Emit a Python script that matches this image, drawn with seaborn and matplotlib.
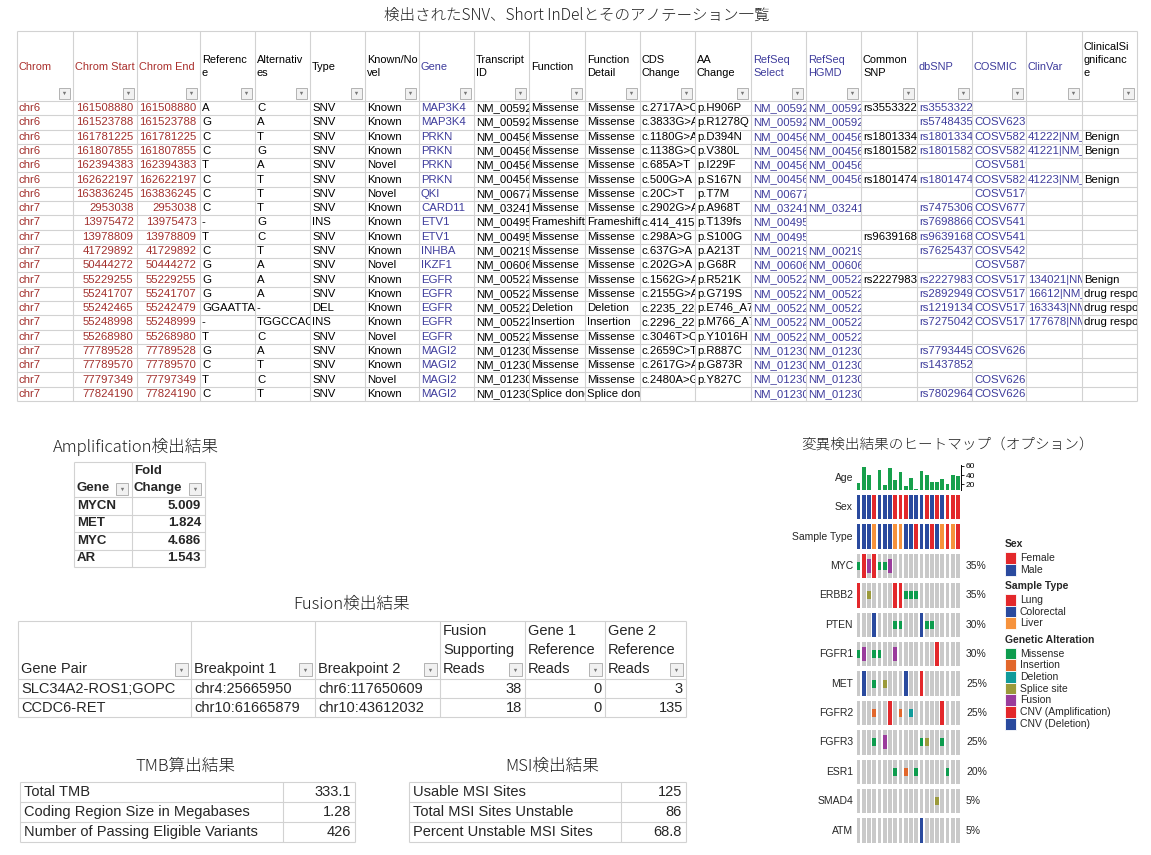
import numpy as np
import pandas as pd
import matplotlib
matplotlib.use("Agg")
import matplotlib.pyplot as plt
import seaborn as sns
from matplotlib.patches import Rectangle
from matplotlib.transforms import Bbox, TransformedBbox

sns.set_theme(style="white")
plt.rcParams["font.family"] = ["Liberation Sans", "Noto Sans CJK JP", "DejaVu Sans"]
JP = ["Noto Sans CJK JP", "DejaVu Sans"]

# ---------------------------------------------------------------- data: SNV / InDel table
snv_headers = ["Chrom", "Chrom Start", "Chrom End", "Referenc\ne", "Alternativ\nes", "Type",
               "Known/No\nvel", "Gene", "Transcript\nID", "Function", "Function\nDetail",
               "CDS\nChange", "AA\nChange", "RefSeq\nSelect", "RefSeq\nHGMD", "Common\nSNP",
               "dbSNP", "COSMIC", "ClinVar", "ClinicalSi\ngnificanc\ne"]
chrom = ["chr6"] * 7 + ["chr7"] * 14
chrom_start = [161508880, 161523788, 161781225, 161807855, 162394383, 162622197, 163836245,
               2953038, 13975472, 13978809, 41729892, 50444272, 55229255, 55241707,
               55242465, 55248998, 55268980, 77789528, 77789570, 77797349, 77824190]
chrom_end = [161508880, 161523788, 161781225, 161807855, 162394383, 162622197, 163836245,
             2953038, 13975473, 13978809, 41729892, 50444272, 55229255, 55241707,
             55242479, 55248999, 55268980, 77789528, 77789570, 77797349, 77824190]
reference = ["A", "G", "C", "C", "T", "C", "C", "C", "-", "T", "C", "G", "G", "G",
             "GGAATTAAGAGAAGC", "-", "T", "G", "C", "T", "C"]
alternatives = ["C", "A", "T", "G", "A", "T", "T", "T", "G", "C", "T", "A", "A", "A",
                "-", "TGGCCAGCG", "C", "A", "T", "C", "T"]
var_type = ["SNV"] * 8 + ["INS", "SNV", "SNV", "SNV", "SNV", "SNV", "DEL", "INS",
                          "SNV", "SNV", "SNV", "SNV", "SNV"]
known_novel = ["Known", "Known", "Known", "Known", "Novel", "Known", "Novel", "Known",
               "Known", "Known", "Known", "Novel", "Known", "Known", "Known", "Known",
               "Novel", "Known", "Known", "Novel", "Known"]
gene = ["MAP3K4", "MAP3K4", "PRKN", "PRKN", "PRKN", "PRKN", "QKI", "CARD11", "ETV1", "ETV1",
        "INHBA", "IKZF1", "EGFR", "EGFR", "EGFR", "EGFR", "EGFR", "MAGI2", "MAGI2", "MAGI2",
        "MAGI2"]
transcript = ["NM_005922", "NM_005922", "NM_004562", "NM_004562", "NM_004562", "NM_004562",
              "NM_006775", "NM_032415", "NM_004956", "NM_004956", "NM_002192", "NM_006060",
              "NM_005228", "NM_005228", "NM_005228", "NM_005228", "NM_005228", "NM_012301",
              "NM_012301", "NM_012301", "NM_012301"]
function = ["Missense"] * 8 + ["Frameshift"] + ["Missense"] * 5 + \
           ["Deletion", "Insertion", "Missense", "Missense", "Missense", "Missense", "Splice donor"]
function_detail = list(function)
cds_change = ["c.2717A>C", "c.3833G>A", "c.1180G>A", "c.1138G>C", "c.685A>T", "c.500G>A",
              "c.20C>T", "c.2902G>A", "c.414_415insC", "c.298A>G", "c.637G>A", "c.202G>A",
              "c.1562G>A", "c.2155G>A", "c.2235_2249del", "c.2296_2297ins", "c.3046T>C",
              "c.2659C>T", "c.2617G>A", "c.2480A>G", ""]
aa_change = ["p.H906P", "p.R1278Q", "p.D394N", "p.V380L", "p.I229F", "p.S167N", "p.T7M",
             "p.A968T", "p.T139fs", "p.S100G", "p.A213T", "p.G68R", "p.R521K", "p.G719S",
             "p.E746_A750del", "p.M766_A767ins", "p.Y1016H", "p.R887C", "p.G873R", "p.Y827C", ""]
refseq_select = list(transcript)
refseq_hgmd = ["NM_005922", "NM_005922", "NM_004562", "NM_004562", "NM_004562", "NM_004562",
               "", "NM_032415", "", "", "NM_002192", "NM_006060", "NM_005228", "NM_005228",
               "NM_005228", "NM_005228", "NM_005228", "NM_012301", "NM_012301", "NM_012301",
               "NM_012301"]
common_snp = ["rs3553322", "", "rs1801334", "rs1801582", "", "rs1801474", "", "", "",
              "rs9639168", "", "", "rs2227983", "", "", "", "", "", "", "", ""]
dbsnp = ["rs3553322", "rs5748435", "rs1801334", "rs1801582", "", "rs1801474", "", "rs7475306",
         "rs7698866", "rs9639168", "rs7625437", "", "rs2227983", "rs2892949", "rs1219134",
         "rs7275042", "", "rs7793445", "rs1437852", "", "rs7802964"]
cosmic = ["", "COSV62331", "COSV58221", "COSV58214", "COSV58193", "COSV58201", "COSV51703",
          "COSV67793", "COSV54131", "COSV54132", "COSV54210", "COSV58792", "COSV51772",
          "COSV51766", "COSV51767", "COSV51768", "", "COSV62631", "", "COSV62692", "COSV62633"]
clinvar = ["", "", "41222|NM_", "41221|NM_", "", "41223|NM_", "", "", "", "", "", "",
           "134021|NM", "16612|NM_", "163343|NM", "177678|NM", "", "", "", "", ""]
clin_sig = ["", "", "Benign", "Benign", "", "Benign", "", "", "", "", "", "", "Benign",
            "drug response", "drug response", "drug response", "", "", "", "", ""]

# ---------------------------------------------------------------- data: small tables
amp_gene = ["MYCN", "MET", "MYC", "AR"]
amp_fold = [5.009, 1.824, 4.686, 1.543]

fusion_headers = ["Gene Pair", "Breakpoint 1", "Breakpoint 2", "Fusion\nSupporting\nReads",
                  "Gene 1\nReference\nReads", "Gene 2\nReference\nReads"]
fusion_pair = ["SLC34A2-ROS1;GOPC", "CCDC6-RET"]
fusion_bp1 = ["chr4:25665950", "chr10:61665879"]
fusion_bp2 = ["chr6:117650609", "chr10:43612032"]
fusion_reads = [38, 18]
gene1_ref_reads = [0, 0]
gene2_ref_reads = [3, 135]

tmb_labels = ["Total TMB", "Coding Region Size in Megabases", "Number of Passing Eligible Variants"]
tmb_values = ["333.1", "1.28", "426"]
msi_labels = ["Usable MSI Sites", "Total MSI Sites Unstable", "Percent Unstable MSI Sites"]
msi_values = ["125", "86", "68.8"]

# ---------------------------------------------------------------- data: oncoprint
samples = list(range(20))
age = [23, 58, 41, np.nan, 51, 19, 56, 29, 47, 17, 33, 11, 49, 41, 25, 25, 32, 21, 40, 38]
sex = ["Male", "Male", "Male", "Female", "Male", "Male", "Male", "Female", "Female", "Female",
       "Male", "Male", "Male", "Female", "Male", "Female", "Male", "Female", "Female", "Female"]
sample_type = ["Colorectal", "Colorectal", "Colorectal", "Liver", "Colorectal", "Colorectal",
               "Colorectal", "Liver", "Liver", "Colorectal", "Colorectal", "Lung", "Colorectal",
               "Colorectal", "Lung", "Colorectal", "Liver", "Lung", "Liver", "Lung"]
onco_genes = ["MYC", "ERBB2", "PTEN", "FGFR1", "MET", "FGFR2", "FGFR3", "ESR1", "SMAD4", "ATM"]
alterations = {
    "MYC":   [(0, "Missense"), (1, "CNV (Amplification)"), (2, "Fusion"), (3, "CNV (Amplification)"),
              (4, "Missense"), (5, "Missense"), (6, "Fusion")],
    "ERBB2": [(0, "CNV (Amplification)"), (2, "Splice site"), (7, "CNV (Amplification)"),
              (8, "CNV (Amplification)"), (9, "Missense"), (10, "Missense"), (11, "Missense")],
    "PTEN":  [(3, "CNV (Deletion)"), (7, "Missense"), (8, "Missense"), (12, "CNV (Deletion)"),
              (13, "Missense"), (14, "Missense")],
    "FGFR1": [(0, "Missense"), (1, "Fusion"), (3, "Missense"), (4, "Missense"), (7, "Fusion"),
              (15, "CNV (Amplification)")],
    "MET":   [(1, "CNV (Deletion)"), (3, "Missense"), (5, "Splice site"), (9, "CNV (Deletion)"),
              (12, "CNV (Amplification)")],
    "FGFR2": [(3, "Insertion"), (6, "CNV (Amplification)"), (8, "Insertion"), (10, "Deletion"),
              (16, "CNV (Amplification)")],
    "FGFR3": [(3, "Missense"), (5, "Fusion"), (12, "Missense"), (13, "Splice site"), (16, "Missense")],
    "ESR1":  [(7, "Missense"), (9, "Insertion"), (11, "Missense"), (17, "Missense")],
    "SMAD4": [(15, "Splice site")],
    "ATM":   [(12, "CNV (Deletion)")],
}

# ---------------------------------------------------------------- styles
RED = "#e3282b"
BLUE = "#2a4a9e"
sex_colors = {"Female": RED, "Male": BLUE}
type_colors = {"Lung": RED, "Colorectal": BLUE, "Liver": "#f6923c"}
alt_colors = {"Missense": "#0e9c4e", "Insertion": "#e2672b", "Deletion": "#119b9b",
              "Splice site": "#9b9a3b", "Fusion": "#9a3c9c",
              "CNV (Amplification)": RED, "CNV (Deletion)": BLUE}
alt_height = {"Missense": 0.33, "Insertion": 0.33, "Deletion": 0.33, "Splice site": 0.33,
              "Fusion": 0.58, "CNV (Amplification)": 1.0, "CNV (Deletion)": 1.0}
AGE_GREEN = "#17a04c"
CELL_GRAY = "#c9c9c9"
GRID = "#d2d2d2"
HDR_RED = "#aa2f2c"
HDR_BLUE = "#3e3c9c"
TITLE_KW = dict(family=JP, color="#222222", fontweight="light")


def _probe(order):
    f = plt.figure(figsize=(1, 1), dpi=100)
    a = f.add_axes([0, 0, 1, 1])
    a.set_xlim(0, 100)
    a.set_ylim(100, 0)
    a.axis("off")
    t = a.text(5, 50, "MMMMMMMM", fontsize=14, va="center", color="black")
    bb = Bbox.from_extents(0, 80, 50, 20) if order == "norm" else Bbox.from_extents(0, 20, 50, 80)
    t.set_clip_box(TransformedBbox(bb, a.transData))
    t.set_clip_on(True)
    f.canvas.draw()
    arr = np.asarray(f.canvas.buffer_rgba())[..., :3]
    plt.close(f)
    dark = arr.min(axis=2) < 110
    cols = np.where(dark.any(axis=0))[0]
    return len(cols) > 0 and cols.max() <= 53


CLIP_ORDER = "norm" if _probe("norm") else ("rev" if _probe("rev") else None)

W, H = 1151, 855
fig = plt.figure(figsize=(W / 100, H / 100), dpi=100)
ov = fig.add_axes([0, 0, 1, 1])
ov.set_xlim(0, W)
ov.set_ylim(H, 0)
ov.axis("off")
renderer = fig.canvas.get_renderer()


def cell_text(x, y, s, x0, x1, y0, y1, **kw):
    t = ov.text(x, y, s, **kw)
    if CLIP_ORDER is not None:
        bb = Bbox.from_extents(x0, y1, x1, y0) if CLIP_ORDER == "norm" else \
            Bbox.from_extents(x0, y0, x1, y1)
        t.set_clip_box(TransformedBbox(bb, ov.transData))
        t.set_clip_on(True)
    else:
        while s and t.get_window_extent(renderer).x1 > x1 + 0.5:
            s = s[:-1]
            t.set_text(s)
    return t


def filter_button(xr, yb, size):
    ov.add_patch(Rectangle((xr - size, yb - size), size, size, facecolor="#f1f1f1",
                           edgecolor="#a8a8a8", lw=0.6, zorder=3))
    ov.plot([xr - size / 2], [yb - size / 2], marker="v", ms=2.4, color="#777777",
            mec="none", zorder=4)


def grid(xs, ys, color=GRID, lw=0.8):
    for y in ys:
        ov.plot([xs[0], xs[-1]], [y, y], color=color, lw=lw, solid_capstyle="butt")
    for x in xs:
        ov.plot([x, x], [ys[0], ys[-1]], color=color, lw=lw, solid_capstyle="butt")


# ---------------------------------------------------------------- SNV table
ov.text(577, 15, "検出されたSNV、Short InDelとそのアノテーション一覧", ha="center", va="center",
        fontsize=11.2, **TITLE_KW)
snv_cols = [chrom, chrom_start, chrom_end, reference, alternatives, var_type, known_novel, gene,
            transcript, function, function_detail, cds_change, aa_change, refseq_select,
            refseq_hgmd, common_snp, dbsnp, cosmic, clinvar, clin_sig]
snv_x = [17, 73, 137, 200, 255, 310, 365, 419, 474, 529, 585, 640, 695, 751, 806, 861, 917,
         972, 1026, 1082, 1137]
snv_hdr_color = [HDR_RED] * 3 + ["black"] * 4 + [HDR_BLUE] + ["black"] * 5 + [HDR_BLUE] * 2 + \
                ["black"] + [HDR_BLUE] * 3 + ["black"]
snv_val_color = ["#a3302d"] * 3 + ["black"] * 4 + [HDR_BLUE] + ["black"] * 5 + [HDR_BLUE] * 2 + \
                ["black"] + [HDR_BLUE] * 3 + ["black"]
snv_right = [False, True, True] + [False] * 17
top, hdr_bot, bot = 31, 101, 401
nrow = len(chrom)
rh = (bot - hdr_bot) / nrow
row_ys = [hdr_bot + i * rh for i in range(nrow + 1)]
grid(snv_x, [top] + row_ys)
for j, head in enumerate(snv_headers):
    x0, x1 = snv_x[j], snv_x[j + 1]
    lines = head.split("\n")
    ys = [67] if len(lines) == 1 else [73 - 13 * (len(lines) - 1 - k) for k in range(len(lines))]
    for ln, yy in zip(lines, ys):
        cell_text(x0 + 2, yy, ln, x0, x1, top, hdr_bot, fontsize=7.9, va="center",
                  color=snv_hdr_color[j])
    filter_button(x1 - 3, hdr_bot - 2, 11)
    for i, v in enumerate(snv_cols[j]):
        yc = hdr_bot + (i + 0.5) * rh
        s = str(v)
        if not s:
            continue
        if snv_right[j]:
            cell_text(x1 - 3.5, yc, s, x0, x1, row_ys[i], row_ys[i + 1], fontsize=8.2,
                      ha="right", va="center", color=snv_val_color[j])
        else:
            cell_text(x0 + 2, yc, s, x0 + 1, x1, row_ys[i], row_ys[i + 1], fontsize=8.2,
                      ha="left", va="center", color=snv_val_color[j])

# ---------------------------------------------------------------- Amplification table
ov.text(53, 447, "Amplification検出結果", ha="left", va="center", fontsize=12, **TITLE_KW)
amp_x = [74, 132, 205]
amp_top, amp_hb = 462, 497
amp_rh = (567 - amp_hb) / len(amp_gene)
amp_rows = [amp_hb + i * amp_rh for i in range(len(amp_gene) + 1)]
grid(amp_x, [amp_top] + amp_rows)
ov.text(amp_x[0] + 3, 488, "Gene", fontsize=9.5, fontweight="bold", va="center")
ov.text(amp_x[1] + 2, 471, "Fold", fontsize=9.5, fontweight="bold", va="center")
ov.text(amp_x[1] + 2, 488, "Change", fontsize=9.5, fontweight="bold", va="center")
filter_button(amp_x[1] - 4, amp_hb - 2, 12)
filter_button(amp_x[2] - 4, amp_hb - 2, 12)
for i, (g, f) in enumerate(zip(amp_gene, amp_fold)):
    yc = amp_hb + (i + 0.5) * amp_rh
    ov.text(amp_x[0] + 3, yc, g, fontsize=9.5, fontweight="bold", va="center")
    ov.text(amp_x[2] - 4, yc, f"{f:.3f}", fontsize=9.5, fontweight="bold", va="center", ha="right")

# ---------------------------------------------------------------- Fusion table
ov.text(352, 604, "Fusion検出結果", ha="center", va="center", fontsize=12, **TITLE_KW)
fus_x = [18, 191, 315, 440, 525, 605, 686]
fus_top, fus_hb = 621, 679
fus_rh = 19
fus_rows = [fus_hb + i * fus_rh for i in range(len(fusion_pair) + 1)]
grid(fus_x, [fus_top] + fus_rows)
fus_cols = [fusion_pair, fusion_bp1, fusion_bp2, fusion_reads, gene1_ref_reads, gene2_ref_reads]
for j, head in enumerate(fusion_headers):
    x0, x1 = fus_x[j], fus_x[j + 1]
    lines = head.split("\n")
    for k, ln in enumerate(lines):
        ov.text(x0 + 3, 669 - 19 * (len(lines) - 1 - k), ln, fontsize=10.5, va="center")
    filter_button(x1 - 3, fus_hb - 3, 13)
    for i, v in enumerate(fus_cols[j]):
        yc = fus_hb + (i + 0.5) * fus_rh
        if isinstance(v, str):
            ov.text(x0 + 3, yc, v, fontsize=10.5, va="center")
        else:
            ov.text(x1 - 3, yc, str(v), fontsize=10.5, va="center", ha="right")

# ---------------------------------------------------------------- TMB / MSI tables
for title, tx, labels, values, xs in [("TMB算出結果", 185, tmb_labels, tmb_values, [20, 283, 355]),
                                       ("MSI検出結果", 552, msi_labels, msi_values, [409, 621, 686])]:
    ov.text(tx, 766, title, ha="center", va="center", fontsize=12, **TITLE_KW)
    rows = [782 + 20 * i for i in range(len(labels) + 1)]
    grid(xs, rows)
    for i, (lab, val) in enumerate(zip(labels, values)):
        yc = rows[i] + 10
        ov.text(xs[0] + 4, yc, lab, fontsize=10.5, va="center")
        ov.text(xs[2] - 4, yc, val, fontsize=10.5, va="center", ha="right")

# ---------------------------------------------------------------- oncoprint
ov.text(948, 445, "変異検出結果のヒートマップ（オプション）", ha="center", va="center", fontsize=10.5,
        **TITLE_KW)
x_left, x_right = 855.9, 960.7
y_top, pitch = 465.5, 29.4
track_labels = ["Age", "Sex", "Sample Type"] + onco_genes
n_tracks = len(track_labels)
TH = 24.5 / pitch
BW = 0.72
BAR_KW = dict(width=BW, linewidth=0, edgecolor="none")

axo = fig.add_axes([x_left / W, 1 - (y_top + n_tracks * pitch) / H, (x_right - x_left) / W,
                    n_tracks * pitch / H])
axo.set_xlim(-0.5, 19.5)
axo.set_ylim(n_tracks, 0)
axo.axis("off")
axo.patch.set_alpha(0)

axo.bar(samples, TH, bottom=1, color=[sex_colors[s] for s in sex], **BAR_KW)
axo.bar(samples, TH, bottom=2, color=[type_colors[s] for s in sample_type], **BAR_KW)
for g_i, g in enumerate(onco_genes):
    t = 3 + g_i
    axo.bar(samples, TH, bottom=t, color=CELL_GRAY, **BAR_KW)
    for s_i, kind in alterations[g]:
        h = alt_height[kind] * TH
        axo.bar([s_i], [h], bottom=t + (TH - h) / 2, color=alt_colors[kind], **BAR_KW)
    pct = 100 * len(alterations[g]) / len(samples)
    ov.text(966, y_top + (t + TH / 2) * pitch, f"{pct:.0f}%", fontsize=7.5, va="center", ha="left")

for t, lab in enumerate(track_labels):
    ov.text(853, y_top + (t + TH / 2) * pitch, lab, fontsize=7.5, va="center", ha="right")

# Age track (seaborn bar plot on its own small axes)
ax_age = fig.add_axes([x_left / W, 1 - (y_top + TH * pitch) / H, (x_right - x_left) / W,
                       TH * pitch / H])
age_df = pd.DataFrame({"sample": samples, "age": age})
sns.barplot(data=age_df, x="sample", y="age", color=AGE_GREEN, saturation=1, width=BW,
            ax=ax_age, errorbar=None, linewidth=0, edgecolor="none")
ax_age.set_xlim(-0.5, 19.5)
ax_age.set_ylim(8, 61)
ax_age.patch.set_alpha(0)
for sp in ["left", "top", "bottom"]:
    ax_age.spines[sp].set_visible(False)
ax_age.spines["right"].set_visible(True)
ax_age.spines["right"].set_color("black")
ax_age.spines["right"].set_linewidth(0.7)
ax_age.yaxis.tick_right()
ax_age.set_yticks([20, 40, 60])
ax_age.set_yticklabels(["20", "40", "60"])
ax_age.tick_params(axis="y", right=True, length=2.5, width=0.6, pad=1, labelsize=6, colors="black")
ax_age.set_xticks([])
ax_age.set_xlabel("")
ax_age.set_ylabel("")

# legend
legend_sections = [("Sex", ["Female", "Male"], sex_colors),
                   ("Sample Type", ["Lung", "Colorectal", "Liver"], type_colors),
                   ("Genetic Alteration", list(alt_colors.keys()), alt_colors)]
ly = 544
for title, items, cmap in legend_sections:
    ov.text(1005, ly, title, fontsize=7.5, fontweight="bold", va="center", ha="left")
    ly += 14
    for it in items:
        ov.add_patch(Rectangle((1005, ly - 5.85), 11, 11.7, facecolor=cmap[it], edgecolor="white",
                               lw=0.6))
        ov.text(1020, ly, it, fontsize=7.5, va="center", ha="left")
        ly += 11.7
    ly += 4.5

fig.savefig("out.png", dpi=100)
